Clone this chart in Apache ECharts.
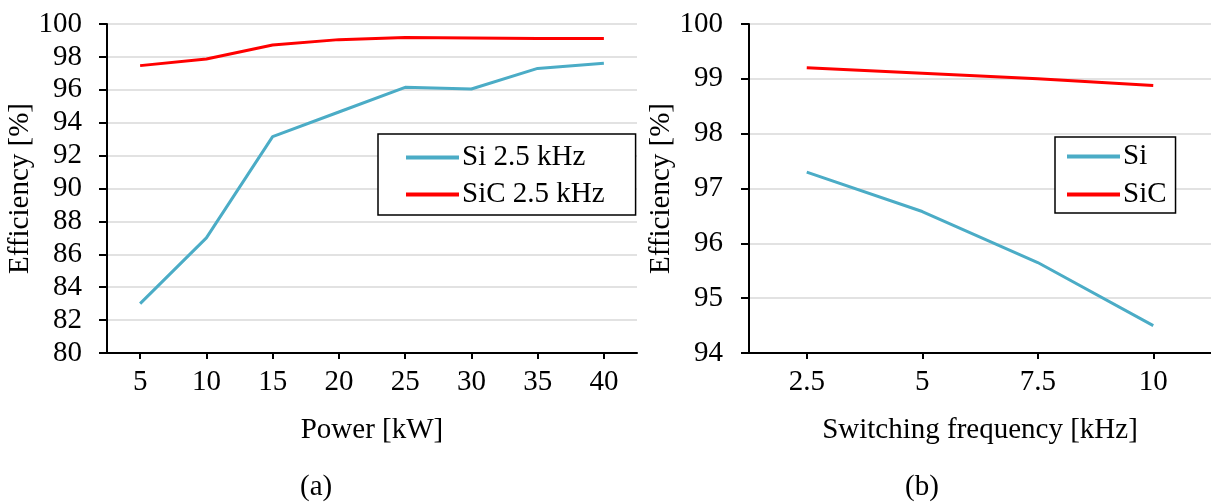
<!DOCTYPE html>
<html>
<head>
<meta charset="utf-8">
<script src="https://cdn.jsdelivr.net/npm/echarts@6/dist/echarts.min.js"></script>
<style>
html,body{margin:0;padding:0;background:#fff;}
#chart{width:1211px;height:503px;}
</style>
</head>
<body>
<div id="chart"></div>
<script>
// ---- Data (a): efficiency vs power ----
var powerCategories = ['5', '10', '15', '20', '25', '30', '35', '40'];
var siPower  = [83.0, 87.0, 93.15, 94.65, 96.15, 96.05, 97.3, 97.62];
var sicPower = [97.47, 97.87, 98.72, 99.05, 99.18, 99.15, 99.12, 99.12];
var powerYTicks = { min: 80, max: 100, interval: 2 };

// ---- Data (b): efficiency vs switching frequency ----
var freqCategories = ['2.5', '5', '7.5', '10'];
var siFreq  = [97.3, 96.58, 95.65, 94.5];
var sicFreq = [99.2, 99.1, 99.0, 98.88];
var freqYTicks = { min: 94, max: 100, interval: 1 };

var FONT = '"Liberation Serif", "DejaVu Serif", serif';
var FS = 29;
var SI_COLOR = '#4bacc6';
var SIC_COLOR = '#ff0000';

var chart = echarts.init(document.getElementById('chart'), null, { renderer: 'canvas' });

function xAxisCfg(gridIndex, cats, name) {
  return {
    type: 'category', gridIndex: gridIndex, data: cats,
    boundaryGap: true,
    name: name, nameLocation: 'middle', nameGap: 63,
    nameTextStyle: { fontFamily: FONT, fontSize: FS, color: '#000' },
    axisLine: { lineStyle: { color: '#000', width: 2 } },
    axisTick: { show: true, alignWithLabel: true, interval: 0, length: 6, lineStyle: { color: '#000', width: 2 } },
    axisLabel: { fontFamily: FONT, fontSize: FS, color: '#000', margin: 15, interval: 0 },
    splitLine: { show: false }
  };
}
function yAxisCfg(gridIndex, t, nameGap, margin) {
  return {
    type: 'value', gridIndex: gridIndex, min: t.min, max: t.max, interval: t.interval,
    name: 'Efficiency [%]', nameLocation: 'middle', nameGap: nameGap,
    nameTextStyle: { fontFamily: FONT, fontSize: FS, color: '#000' },
    axisLine: { show: true, lineStyle: { color: '#000', width: 2 } },
    axisTick: { show: true, length: 8, lineStyle: { color: '#000', width: 2 } },
    axisLabel: { fontFamily: FONT, fontSize: FS, color: '#000', margin: margin },
    splitLine: { show: true, lineStyle: { color: '#d9d9d9', width: 1.5 } }
  };
}
function lineSeries(name, x, y, data, color) {
  return {
    type: 'line', name: name, xAxisIndex: x, yAxisIndex: y, data: data,
    symbol: 'none', smooth: false,
    lineStyle: { color: color, width: 3 }, itemStyle: { color: color },
    animation: false
  };
}
function legendCfg(names, left, top, padding, gap) {
  return {
    data: names, orient: 'vertical', left: left, top: top,
    align: 'left', icon: 'rect', itemWidth: 53, itemHeight: 4, itemGap: gap,
    padding: padding, borderColor: '#000', borderWidth: 1.5, backgroundColor: '#fff',
    textStyle: { fontFamily: FONT, fontSize: FS, color: '#000', lineHeight: 29, padding: [0, 0, 0, -2] },
    selectedMode: false
  };
}

var option = {
  backgroundColor: '#fff',
  animation: false,
  grid: [
    { left: 107, top: 24, width: 530, height: 329 },
    { left: 749, top: 24, width: 463, height: 329 }
  ],
  xAxis: [
    xAxisCfg(0, powerCategories, 'Power [kW]'),
    xAxisCfg(1, freqCategories, 'Switching frequency [kHz]')
  ],
  yAxis: [
    yAxisCfg(0, powerYTicks, 71, 25),
    yAxisCfg(1, freqYTicks, 63, 26)
  ],
  legend: [
    legendCfg(['Si 2.5 kHz', 'SiC 2.5 kHz'], 378, 134, [9, 31, 6, 28], 8),
    legendCfg(['Si', 'SiC'], 1055, 137, [5, 9, 4, 12], 9)
  ],
  series: [
    lineSeries('Si 2.5 kHz', 0, 0, siPower, SI_COLOR),
    lineSeries('SiC 2.5 kHz', 0, 0, sicPower, SIC_COLOR),
    lineSeries('Si', 1, 1, siFreq, SI_COLOR),
    lineSeries('SiC', 1, 1, sicFreq, SIC_COLOR)
  ],
  graphic: [
    { type: 'text', left: 300, top: 473, style: { text: '(a)', font: FS + 'px ' + FONT, fill: '#000' } },
    { type: 'text', left: 905, top: 473, style: { text: '(b)', font: FS + 'px ' + FONT, fill: '#000' } }
  ]
};
chart.setOption(option);
</script>
</body>
</html>
